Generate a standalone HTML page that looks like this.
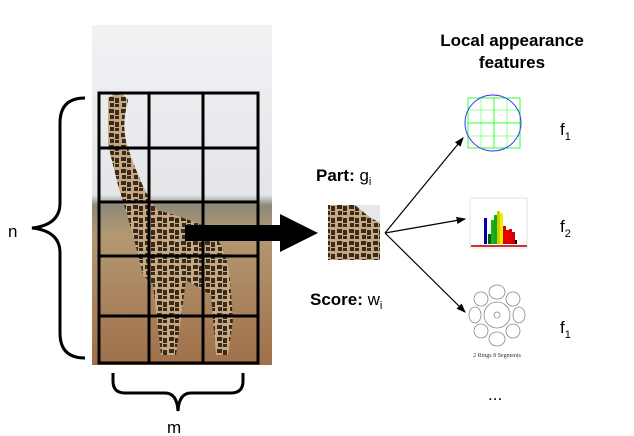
<!DOCTYPE html>
<html><head><style>body{margin:0;background:#fff}svg{display:block}</style></head><body>
<svg width="634" height="436" viewBox="0 0 634 436" xmlns="http://www.w3.org/2000/svg" font-family="Liberation Sans, sans-serif">
<defs>
<linearGradient id="sky" x1="0" y1="0" x2="0" y2="1">
<stop offset="0" stop-color="#f1f2f4"/><stop offset="0.5" stop-color="#e3e5e8"/><stop offset="0.53" stop-color="#8e8a78"/><stop offset="0.62" stop-color="#b39872"/><stop offset="1" stop-color="#a0704a"/></linearGradient>
<pattern id="spots" width="12" height="12" patternUnits="userSpaceOnUse"><rect width="12" height="12" fill="#c4a983"/><path d="M1,1 h5 v4 h-5z M7,2 h4 v5 h-4z M2,7 h4 v4 h-4z M7,8 h4 v3 h-4z" fill="#3a2a1c"/></pattern>
<marker id="ah" markerWidth="8" markerHeight="8" refX="7" refY="4" orient="auto"><path d="M0,1 L8,4 L0,7 z" fill="#000"/></marker>
</defs>
<rect x="92" y="25" width="180" height="340" fill="url(#sky)"/>
<path d="M108,98 q12,-10 20,2 l-3,15 q-2,15 2,30 q15,45 30,65 q20,5 45,15 q25,15 28,55 l3,40 -5,35 h-12 l-5,-60 -25,-15 -10,75 h-15 l-8,-70 -10,-10 -10,-40 -15,-50 -10,-40 z" fill="url(#spots)"/>
<g stroke="#000" stroke-width="3" fill="none">
<rect x="99" y="93" width="159" height="270"/>
<line x1="149" y1="93" x2="149" y2="363"/><line x1="203" y1="93" x2="203" y2="363"/>
<line x1="99" y1="148" x2="258" y2="148"/><line x1="99" y1="202" x2="258" y2="202"/><line x1="99" y1="256" x2="258" y2="256"/><line x1="99" y1="316" x2="258" y2="316"/>
<path d="M85,98 q-25,0 -25,25 v80 q0,22 -28,25 q28,3 28,25 v80 q0,25 25,25"/>
<path d="M113,373 v8 q0,12 12,12 h40 q12,0 13,18 q1,-18 13,-18 h40 q12,0 12,-12 v-8"/>
</g>
<text x="8" y="237" font-size="17">n</text>
<text x="167" y="433" font-size="17">m</text>
<rect x="185" y="225" width="97" height="16" fill="#000"/>
<path d="M280,214 L318,233 L280,252 z" fill="#000"/>
<rect x="328" y="205" width="52" height="55" fill="url(#spots)"/>
<path d="M355,205 h25 v18 q-12,-6 -25,-18z" fill="#e6e8ea"/>
<text x="316" y="181" font-size="17"><tspan font-weight="bold">Part:</tspan> g<tspan font-size="11" dy="4">i</tspan></text>
<text x="310" y="305" font-size="17"><tspan font-weight="bold">Score:</tspan> w<tspan font-size="11" dy="4">i</tspan></text>
<g stroke="#000" stroke-width="1.2" marker-end="url(#ah)">
<line x1="385" y1="233" x2="463" y2="138"/><line x1="385" y1="233" x2="465" y2="219"/><line x1="385" y1="233" x2="465" y2="312"/>
</g>
<text x="512" y="46" font-size="17" font-weight="bold" text-anchor="middle">Local appearance</text>
<text x="512" y="68" font-size="17" font-weight="bold" text-anchor="middle">features</text>
<g stroke="#3f3" stroke-width="1" fill="none"><rect x="468" y="98" width="52" height="50"/>
<line x1="494" y1="98" x2="494" y2="148"/><line x1="468" y1="123" x2="520" y2="123"/>
<line x1="481" y1="98" x2="481" y2="148" stroke-width="0.5"/><line x1="507" y1="98" x2="507" y2="148" stroke-width="0.5"/>
<line x1="468" y1="110" x2="520" y2="110" stroke-width="0.5"/><line x1="468" y1="136" x2="520" y2="136" stroke-width="0.5"/></g>
<circle cx="493" cy="123" r="28" fill="none" stroke="#33f" stroke-width="1"/>
<rect x="470" y="198" width="57" height="50" fill="#fff" stroke="#ccc" stroke-width="0.6"/>
<g><rect x="484" y="218" width="3" height="26" fill="#00a"/><rect x="488" y="234" width="3" height="10" fill="#060"/><rect x="491" y="220" width="3" height="24" fill="#2a2"/><rect x="494" y="215" width="3" height="29" fill="#1a1"/><rect x="497" y="211" width="3" height="33" fill="#cc0"/><rect x="500" y="213" width="3" height="31" fill="#ee0"/><rect x="503" y="226" width="3" height="18" fill="#d00"/><rect x="506" y="230" width="3" height="14" fill="#e00"/><rect x="509" y="229" width="3" height="15" fill="#d00"/><rect x="512" y="232" width="3" height="12" fill="#c00"/><rect x="515" y="240" width="2" height="4" fill="#000"/></g>
<rect x="471" y="245" width="56" height="2" fill="#c33"/>
<g fill="none" stroke="#888" stroke-width="0.8">
<circle cx="497" cy="315" r="13"/>
<ellipse cx="497" cy="292" rx="8" ry="7"/><ellipse cx="497" cy="339" rx="8" ry="7"/><ellipse cx="475" cy="315" rx="6" ry="8"/><ellipse cx="519" cy="315" rx="6" ry="8"/>
<circle cx="481" cy="299" r="7"/><circle cx="513" cy="299" r="7"/><circle cx="481" cy="331" r="7"/><circle cx="513" cy="331" r="7"/>
<circle cx="497" cy="315" r="3"/></g>
<text x="497" y="357" font-size="6" font-family="Liberation Serif, serif" text-anchor="middle" fill="#333">2 Rings 8 Segments</text>
<text x="560" y="135" font-size="17">f<tspan font-size="11" dy="5">1</tspan></text>
<text x="560" y="232" font-size="17">f<tspan font-size="11" dy="5">2</tspan></text>
<text x="560" y="333" font-size="17">f<tspan font-size="11" dy="5">1</tspan></text>
<text x="488" y="400" font-size="17">...</text>
</svg>
</body></html>
